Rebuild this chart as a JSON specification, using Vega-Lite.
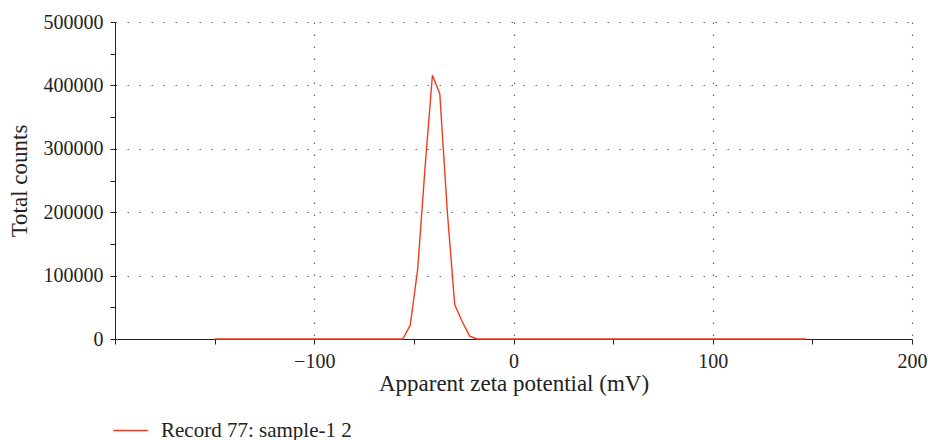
{
  "$schema": "https://vega.github.io/schema/vega-lite/v6.json",
  "width": 797,
  "height": 317,
  "autosize": {"type": "none"},
  "padding": {"left": 115, "top": 22, "right": 16, "bottom": 101},
  "background": "white",
  "config": {
    "font": "Liberation Serif",
    "view": {"stroke": null},
    "axis": {
      "labelFont": "Liberation Serif",
      "titleFont": "Liberation Serif",
      "labelFontSize": 20,
      "titleFontSize": 23,
      "titleFontWeight": "normal",
      "labelColor": "#222",
      "titleColor": "#222",
      "domainColor": "#222",
      "tickColor": "#222",
      "gridColor": "#666",
      "gridDash": [1.5, 10.5],
      "gridWidth": 1.2
    },
    "legend": {
      "labelFont": "Liberation Serif",
      "labelFontSize": 21,
      "labelColor": "#222",
      "labelLimit": 500
    }
  },
  "data": {
    "values": [
      {"x": -150, "y": 0, "series": "Record 77: sample-1 2"},
      {"x": -55.6, "y": 0, "series": "Record 77: sample-1 2"},
      {"x": -51.8, "y": 22000, "series": "Record 77: sample-1 2"},
      {"x": -48.1, "y": 110000, "series": "Record 77: sample-1 2"},
      {"x": -44.4, "y": 270000, "series": "Record 77: sample-1 2"},
      {"x": -40.7, "y": 416000, "series": "Record 77: sample-1 2"},
      {"x": -37.0, "y": 387000, "series": "Record 77: sample-1 2"},
      {"x": -33.2, "y": 200000, "series": "Record 77: sample-1 2"},
      {"x": -29.5, "y": 54000, "series": "Record 77: sample-1 2"},
      {"x": -25.8, "y": 28000, "series": "Record 77: sample-1 2"},
      {"x": -22.0, "y": 4500, "series": "Record 77: sample-1 2"},
      {"x": -18.3, "y": 0, "series": "Record 77: sample-1 2"},
      {"x": 147, "y": 0, "series": "Record 77: sample-1 2"}
    ]
  },
  "mark": {"type": "line", "strokeWidth": 1.4, "interpolate": "linear"},
  "encoding": {
    "x": {
      "field": "x",
      "type": "quantitative",
      "scale": {"domain": [-200, 200], "nice": false, "zero": false},
      "axis": {
        "title": "Apparent zeta potential (mV)",
        "values": [-200, -150, -100, -50, 0, 50, 100, 150, 200],
        "labelExpr": "(datum.value % 100 == 0 && datum.value != -200) ? datum.label : ''",
        "tickSize": 5,
        "labelPadding": 7,
        "titlePadding": 1,
        "gridOpacity": {"condition": {"test": "datum.value % 100 == 0 && datum.value != -200", "value": 1}, "value": 0},
        "labelFlush": false
      }
    },
    "y": {
      "field": "y",
      "type": "quantitative",
      "scale": {"domain": [0, 500000], "nice": false},
      "axis": {
        "title": "Total counts",
        "values": [0, 50000, 100000, 150000, 200000, 250000, 300000, 350000, 400000, 450000, 500000],
        "labelExpr": "datum.value % 100000 == 0 ? format(datum.value, 'd') : ''",
        "tickSize": 5,
        "labelPadding": 7,
        "titlePadding": 12,
        "gridOpacity": {"condition": {"test": "datum.value % 100000 == 0 && datum.value != 0", "value": 1}, "value": 0}
      }
    },
    "color": {
      "field": "series",
      "type": "nominal",
      "scale": {"range": ["#f03c1e"]},
      "legend": {
        "title": null,
        "orient": "none",
        "legendX": -3,
        "legendY": 390,
        "symbolType": "stroke",
        "symbolSize": 1200,
        "symbolStrokeWidth": 1.4,
        "labelOffset": 12
      }
    }
  }
}
